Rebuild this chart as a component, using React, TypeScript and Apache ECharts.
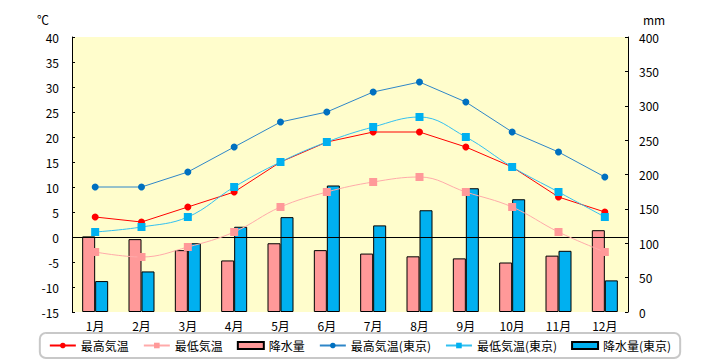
import React, { useEffect, useRef } from "react";
import * as echarts from "echarts";

const categories = ["1月", "2月", "3月", "4月", "5月", "6月", "7月", "8月", "9月", "10月", "11月", "12月"];
const localMax = [4, 3, 6, 9, 15, 19, 21, 21, 18, 14, 8, 5];
const localMin = [-3, -4, -2, 1, 6, 9, 11, 12, 9, 6, 1, -3];
const localPrecip = [110, 106, 90, 75, 100, 90, 85, 81, 78, 72, 82, 119];
const tokyoMax = [10, 10, 13, 18, 23, 25, 29, 31, 27, 21, 17, 12];
const tokyoMin = [1, 2, 4, 10, 15, 19, 22, 24, 20, 14, 9, 4];
const tokyoPrecip = [45, 59, 100, 124, 138, 184, 126, 148, 180, 164, 89, 46];

const FONT = "'Noto Sans CJK JP', 'Noto Sans', sans-serif";

export default function App() {
  const ref = useRef<HTMLDivElement>(null);
  useEffect(() => {
    if (!ref.current) return;
    const chart = echarts.init(ref.current, null, { renderer: "svg" });
    const axisLabel = { color: "#000", fontSize: 12, fontFamily: FONT };
    chart.setOption({
      animation: false,
      textStyle: { fontFamily: FONT },
      grid: {
        left: 72,
        right: 92,
        top: 37,
        bottom: 48,
        show: true,
        backgroundColor: "#FFFDCC",
        borderWidth: 0,
      },
      legend: {
        top: 333,
        left: "center",
        itemGap: 14,
        itemWidth: 26,
        itemHeight: 7,
        padding: [6, 9, 6, 9],
        borderColor: "#c8c8c8",
        borderWidth: 2,
        borderRadius: 6,
        textStyle: { color: "#000", fontSize: 12, lineHeight: 13, fontFamily: FONT },
        data: [
          { name: "最高気温" },
          { name: "最低気温" },
          { name: "降水量", icon: "rect" },
          { name: "最高気温(東京)" },
          { name: "最低気温(東京)" },
          { name: "降水量(東京)", icon: "rect" },
        ],
      },
      xAxis: {
        type: "category",
        data: categories,
        boundaryGap: true,
        axisLine: { show: false },
        axisTick: { show: false },
        axisLabel: { ...axisLabel, margin: 7 },
        splitLine: { show: false },
      },
      yAxis: [
        {
          type: "value",
          min: -15,
          max: 40,
          interval: 5,
          name: "℃",
          nameLocation: "end",
          nameGap: 12,
          nameTextStyle: { color: "#000", fontSize: 12, fontFamily: FONT, align: "right", padding: [0, 23, 0, 0] },
          axisLine: { show: true, lineStyle: { color: "#000", width: 1 } },
          axisTick: { show: true, inside: true, length: 3, lineStyle: { color: "#000" } },
          axisLabel: { ...axisLabel, margin: 13 },
          splitLine: { show: false },
        },
        {
          type: "value",
          min: 0,
          max: 400,
          interval: 50,
          name: "mm",
          nameLocation: "end",
          nameGap: 12,
          nameTextStyle: { color: "#000", fontSize: 12, fontFamily: FONT, align: "left", padding: [0, 0, 0, 15] },
          position: "right",
          axisLine: { show: true, lineStyle: { color: "#000", width: 1 } },
          axisTick: { show: true, inside: true, length: 3, lineStyle: { color: "#000" } },
          axisLabel: { ...axisLabel, margin: 11 },
          splitLine: { show: false },
        },
      ],
      series: [
        {
          name: "最高気温",
          type: "line",
          yAxisIndex: 0,
          data: localMax,
          z: 4,
          symbol: "circle",
          symbolSize: 7,
          itemStyle: { color: "#FF0000" },
          lineStyle: { color: "#FF0000", width: 1 },
          markLine: {
            silent: true,
            symbol: "none",
            label: { show: false },
            lineStyle: { color: "#000", width: 1, type: "solid" },
            data: [{ yAxis: 0 }],
            z: 3,
          },
        },
        {
          name: "最低気温",
          type: "line",
          yAxisIndex: 0,
          data: localMin,
          z: 4,
          smooth: 0.4,
          symbol: "rect",
          symbolSize: 8,
          itemStyle: { color: "#FF9999" },
          lineStyle: { color: "#FFAAAA", width: 1 },
        },
        {
          name: "降水量",
          type: "bar",
          yAxisIndex: 1,
          data: localPrecip,
          z: 1,
          barWidth: 13,
          barGap: "0%",
          itemStyle: { color: "#FF9999", borderColor: "#000", borderWidth: 1 },
        },
        {
          name: "最高気温(東京)",
          type: "line",
          yAxisIndex: 0,
          data: tokyoMax,
          z: 4,
          symbol: "circle",
          symbolSize: 7,
          itemStyle: { color: "#0070C0" },
          lineStyle: { color: "#2E86C8", width: 1 },
        },
        {
          name: "最低気温(東京)",
          type: "line",
          yAxisIndex: 0,
          data: tokyoMin,
          z: 4,
          smooth: 0.4,
          symbol: "rect",
          symbolSize: 8,
          itemStyle: { color: "#00B0F0" },
          lineStyle: { color: "#33C0F0", width: 1 },
        },
        {
          name: "降水量(東京)",
          type: "bar",
          yAxisIndex: 1,
          data: tokyoPrecip,
          z: 1,
          barWidth: 13,
          barGap: "0%",
          itemStyle: { color: "#00B0F0", borderColor: "#000", borderWidth: 1 },
        },
      ],
    });
    return () => chart.dispose();
  }, []);
  return <div ref={ref} style={{ width: 720, height: 360, position: "absolute", left: 0, top: 0 }} />;
}
